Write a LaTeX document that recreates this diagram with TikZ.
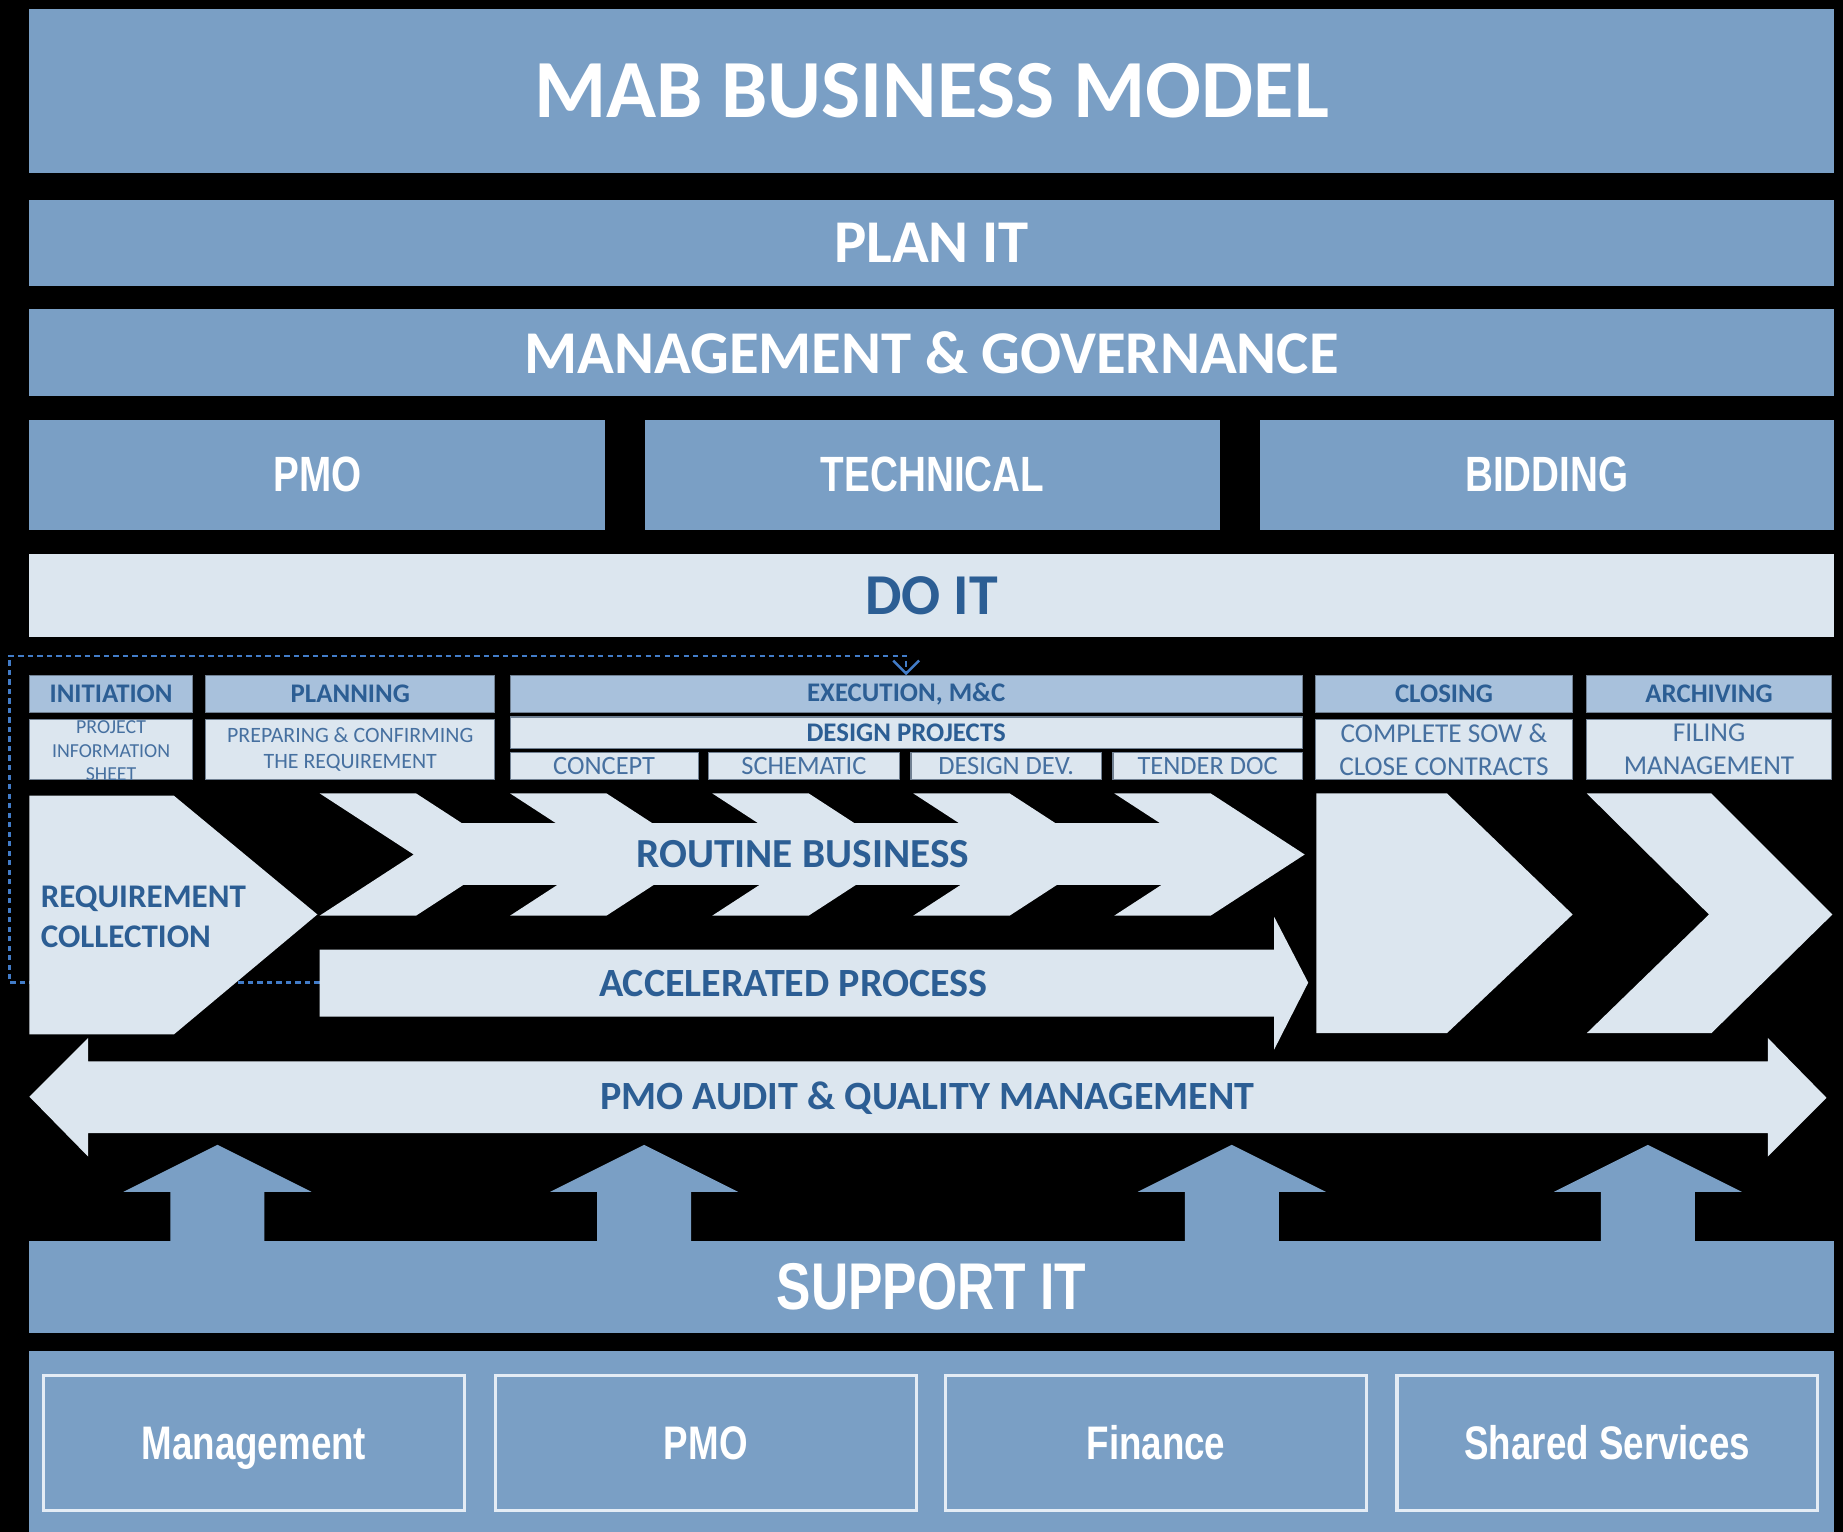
\documentclass[tikz,border=0pt]{standalone}
\usepackage{fontspec}
\setmainfont{Carlito}
\newfontfamily\helvcond{Liberation Sans}[FakeStretch=0.78]
\usepackage{tikz}
\usetikzlibrary{arrows.meta}
\definecolor{barblue}{RGB}{122,159,197}
\definecolor{barpale}{RGB}{220,230,239}
\definecolor{headblue}{RGB}{168,193,220}
\definecolor{edgegrey}{RGB}{112,128,146}
\definecolor{deeptext}{RGB}{44,94,148}
\definecolor{softtext}{RGB}{70,112,160}
\definecolor{loopblue}{RGB}{66,124,200}
\definecolor{deptedge}{RGB}{228,236,245}
\tikzset{
	every node/.style={inner sep=0pt,align=center}
}
\tikzset{
	bluebar/.style={fill=barblue},
	palebar/.style={fill=barpale},
	fullwidth/.style={minimum width=153.5mm},
	bigtext/.style={text=white,font=\bfseries\fontsize{20}{24}\selectfont},
	layertext/.style={text=white,font=\bfseries\fontsize{14.7}{18}\selectfont},
	unittext/.style={text=white,font=\helvcond\bfseries\fontsize{12}{14}\selectfont},
	phasehead/.style={fill=headblue,draw=edgegrey,line width=0.3pt,text=deeptext,
		minimum height=3.1mm,font=\bfseries\fontsize{6.5}{7.5}\selectfont},
	phasesub/.style={fill=barpale,draw=edgegrey,line width=0.3pt,text=softtext,
		minimum height=5.1mm,font=\fontsize{6.6}{8}\selectfont},
	stagebox/.style={phasesub,minimum height=2.3mm,font=\fontsize{6.4}{7.5}\selectfont},
	flowtext/.style={text=deeptext,font=\bfseries\fontsize{10}{12}\selectfont},
	supporttext/.style={text=white,font=\helvcond\bfseries\fontsize{16}{19}\selectfont},
	deptbox/.style={fill=barblue,draw=deptedge,line width=0.8pt,text=white,
		minimum width=35.8mm,minimum height=11.5mm,text height=8.2pt,text depth=0pt,
		font=\helvcond\bfseries\fontsize{11.4}{13}\selectfont},
	feedback/.style={draw=loopblue,line width=0.6pt,dash pattern=on 1.3pt off 1pt,
		-{Straight Barb[length=1.1mm,width=2.2mm]}}
}
\begin{document}
\begin{tikzpicture}[x=0.1mm,y=-0.1mm]
\fill[black] (0,0) rectangle (1568,1303);
\useasboundingbox (0,0) rectangle (1568,1303);

% plan it layers
\node[bluebar,fullwidth,minimum height=13.9mm,bigtext] (model) at (792.5,77.5) {MAB BUSINESS MODEL};
\node[bluebar,fullwidth,minimum height=7.3mm,layertext] (planit) at (792.5,206.5) {PLAN IT};
\node[bluebar,fullwidth,minimum height=7.4mm,layertext] (governance) at (792.5,300) {MANAGEMENT \& GOVERNANCE};
\node[bluebar,minimum width=49mm,minimum height=9.4mm,unittext] (pmo) at (270,404) {PMO};
\node[bluebar,minimum width=48.9mm,minimum height=9.4mm,unittext] (technical) at (793.5,404) {TECHNICAL};
\node[bluebar,minimum width=48.8mm,minimum height=9.4mm,unittext] (bidding) at (1316,404) {BIDDING};
\node[palebar,fullwidth,minimum height=7.1mm,layertext,text=deeptext,font=\bfseries\fontsize{14}{17}\selectfont] (doit) at (792.5,506.5) {DO IT};

% phases
\node[phasehead,minimum width=13.9mm] (initiation) at (94.5,590.5) {INITIATION};
\node[phasehead,minimum width=24.6mm] (planning) at (298,590.5) {PLANNING};
\node[phasehead,minimum width=67.4mm] (execution) at (771,590.5) {EXECUTION, M\&C};
\node[phasehead,minimum width=21.9mm] (closing) at (1228.5,590.5) {CLOSING};
\node[phasehead,minimum width=20.8mm] (archiving) at (1454,590.5) {ARCHIVING};

\node[phasesub,minimum width=13.9mm] (infobox) at (94.5,637.5) {};
\begin{scope}
	\clip (25,612) rectangle (164,663);
	\node[text=softtext,font=\fontsize{4.8}{5.7}\selectfont] (infosheet) at (94.5,639) {PROJECT\\INFORMATION\\SHEET};
\end{scope}
\node[phasesub,minimum width=24.6mm,font=\fontsize{5.3}{6.3}\selectfont] (preparing) at (298,637.5) {PREPARING \& CONFIRMING\\THE REQUIREMENT};
\node[phasesub,minimum width=67.4mm,minimum height=2.7mm,text=deeptext,font=\bfseries\fontsize{6.5}{7.5}\selectfont] (design) at (771,623.5) {DESIGN PROJECTS};
\node[stagebox,minimum width=16mm] (concept) at (514,651.5) {CONCEPT};
\node[stagebox,minimum width=16.2mm] (schematic) at (684,651.5) {SCHEMATIC};
\node[stagebox,minimum width=16.2mm] (designdev) at (856,651.5) {DESIGN DEV.};
\node[stagebox,minimum width=16.1mm] (tender) at (1027.5,651.5) {TENDER DOC};
\node[phasesub,minimum width=21.9mm] (sow) at (1228.5,637.5) {COMPLETE SOW \&\\CLOSE CONTRACTS};
\node[phasesub,minimum width=20.8mm] (filing) at (1454,637.5) {FILING\\MANAGEMENT};

% loop back into execution
\coordinate (acctail) at (272,836);
\coordinate (loopcorner) at (8,558);
\draw[feedback] (acctail) -| (loopcorner) -| (execution.north);

% process flow
\fill[palebar] (25,677) -- (148,677) -- (270,778) -- (148,880) -- (25,880) -- cycle;
\fill[palebar] (352,700) rectangle (1030,753);
\foreach \a in {272,434,606,777,948}
	\fill[palebar] (\a,675) -- ++(82,0) -- ++(80,52) -- ++(-80,52) -- ++(-82,0) -- ++(80,-52) -- cycle;
\fill[palebar] (272,808) -- (1084,808) -- (1084,780) -- (1113,836) -- (1084,893) -- (1084,865) -- (272,865) -- cycle;
\fill[palebar] (1120,675) -- (1231,675) -- (1338,778) -- (1231,879) -- (1120,879) -- cycle;
\fill[palebar] (1350,675) -- (1456,675) -- (1559,778) -- (1456,879) -- (1350,879) -- (1454,778) -- cycle;
\fill[palebar] (25,933) -- (75,883) -- (75,903) -- (1504,903) -- (1504,883) -- (1554,934)
	-- (1504,984) -- (1504,964) -- (75,964) -- (75,984) -- cycle;

\node[flowtext,anchor=west,align=left,font=\bfseries\fontsize{8}{9.7}\selectfont] (reqcollect) at (34,780) {REQUIREMENT\\COLLECTION};
\node[flowtext] (routine) at (683,727) {ROUTINE BUSINESS};
\node[flowtext,font=\bfseries\fontsize{9.7}{12}\selectfont] (accel) at (675,837) {ACCELERATED PROCESS};
\node[flowtext,font=\bfseries\fontsize{9.7}{12}\selectfont] (audit) at (789,934) {PMO AUDIT \& QUALITY MANAGEMENT};

% support it
\foreach \c in {185,548,1048,1402}
	\fill[bluebar] (\c-40,1060) -- (\c-40,1014) -- (\c-80,1014) -- (\c,974) -- (\c+80,1014) -- (\c+40,1014) -- (\c+40,1060) -- cycle;
\node[bluebar,fullwidth,minimum height=7.8mm,supporttext] (supportit) at (792.5,1095) {SUPPORT IT};
\node[bluebar,fullwidth,minimum height=15.4mm] (services) at (792.5,1226) {};
\node[deptbox] (management) at (216,1227.5) {Management};
\node[deptbox] (pmodept) at (600.5,1227.5) {PMO};
\node[deptbox] (finance) at (983.5,1227.5) {Finance};
\node[deptbox] (shared) at (1367.5,1227.5) {Shared Services};
\end{tikzpicture}
\end{document}
